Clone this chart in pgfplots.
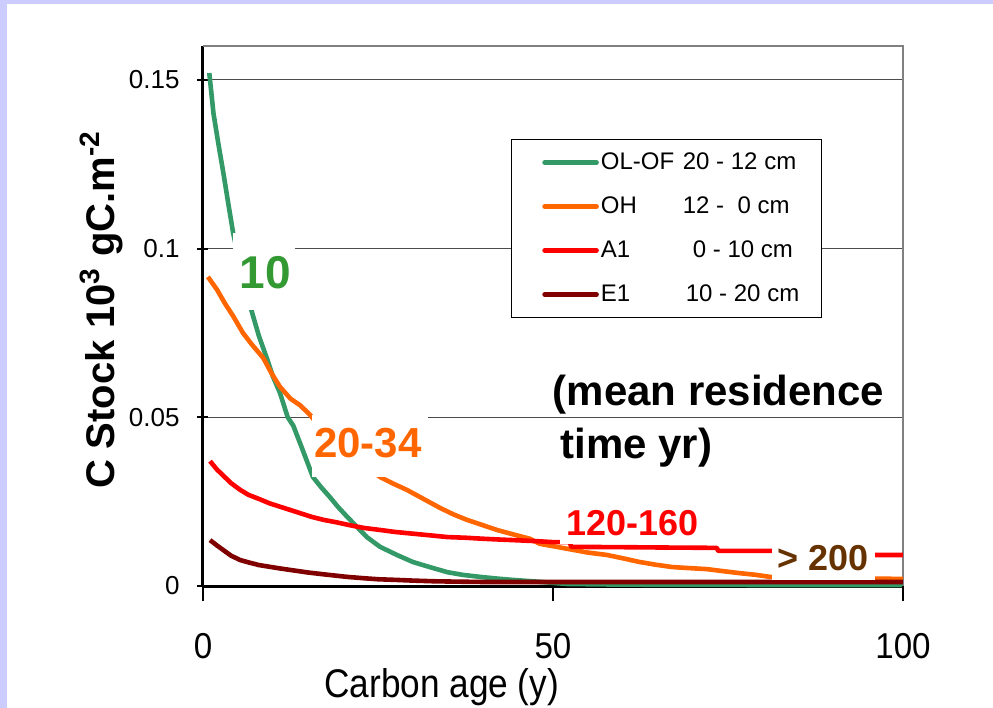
\documentclass[border=0pt]{standalone}
\usepackage{fontspec}
\setmainfont{Liberation Sans}
\usepackage{pgfplots}
\pgfplotsset{compat=1.18}

\definecolor{lavbg}{HTML}{CCCCFF}
\definecolor{olgreen}{HTML}{339966}
\definecolor{tengreen}{HTML}{339933}
\definecolor{ohorange}{HTML}{FF6600}
\definecolor{ared}{HTML}{FF0000}
\definecolor{ebrown}{HTML}{800000}
\definecolor{txtbrown}{HTML}{663300}

% legend text: name column, then depth range
\newcommand{\legtext}[3]{\makebox[111.5pt][l]{\hspace{1pt}\makebox[#1][l]{#2}#3}}

\begin{document}
\begin{tikzpicture}
\useasboundingbox (-101.5pt,-61pt) rectangle (395pt,293pt);
\fill[lavbg] (-101.5pt,-61pt) rectangle (395pt,293pt);
\fill[white] (-98pt,-61pt) rectangle (395pt,291pt);

\begin{axis}[
  at={(0,0)}, anchor=south west,
  scale only axis, width=350pt, height=270pt,
  xmin=0, xmax=100, ymin=0, ymax=0.16,
  clip=false,
  axis lines*=left,
  axis line style={line width=1.5pt, -},
  xtick=\empty,
  ytick={0,0.05,0.1,0.15},
  yticklabels={0,0.05,0.1,0.15},
  tick align=center,
  major tick length=5.5pt,
  tick style={line width=1pt, black},
  ymajorgrids=true,
  grid style={line width=0.6pt, black!70},
  yticklabel style={font=\fontsize{13}{13}\selectfont, inner sep=0pt, anchor=east, xshift=-8.75pt},
  legend style={at={(axis cs:44,0.1325)}, anchor=north west, draw=black, line width=0.6pt,
    inner xsep=0pt, inner ysep=0.5pt, row sep=0pt,
    font=\fontsize{12}{12}\selectfont,
    nodes={inner sep=0pt, minimum height=22pt}},
  legend cell align=left,
  legend image code/.code={
    \path[draw=none] (0pt,0pt) -- (15.5pt,0pt);
    \draw[line width=2.3pt, line cap=round] (16.5pt,0pt) -- (42.5pt,0pt);
  },
  every axis plot/.append style={line width=2.3pt, line join=round},
]

\draw[black!50, line width=0.75pt] (rel axis cs:0,1) -- (rel axis cs:1,1) -- (rel axis cs:1,0);

\addplot[olgreen] coordinates {
(0.9,0.152) (1.5,0.140) (2.2,0.131) (2.9,0.1225) (3.6,0.1135) (4.3,0.1047)
(5.5,0.093) (6.9,0.0818) (8,0.074) (9.1,0.0676) (10,0.062) (11,0.0572)
(12.1,0.050) (12.9,0.0475) (14.3,0.040) (15.7,0.0323) (16.9,0.0292)
(18.1,0.0264) (19.3,0.0234) (20.6,0.0205) (22,0.0175) (23.4,0.0145)
(25.3,0.0116) (27.7,0.0092) (30,0.0071) (32.4,0.0056) (34.9,0.0041)
(37.1,0.0033) (39.6,0.0027) (42,0.0022) (44.3,0.0018) (47,0.0014)
(49,0.0011) (52,0.0006) (60,0.0004) (80,0.0003) (100,0.0003)
};
\addlegendentry{\legtext{41pt}{OL-OF}{20 - 12 cm}}

\addplot[ohorange] coordinates {
(0.7,0.0916) (2,0.0878) (3.2,0.0835) (4.3,0.080) (5.7,0.075)
(7,0.0715) (8.6,0.0676) (9.8,0.063) (11,0.059) (12.5,0.0555) (13.9,0.0535)
(15.3,0.0507) (17.5,0.045) (20,0.040) (22.5,0.0365) (25.3,0.0323)
(27,0.0305) (29.1,0.0285) (31.5,0.0258) (33.9,0.0231) (35.8,0.0212)
(37.7,0.0196) (40,0.0180) (42,0.0166) (44.3,0.0153) (46.7,0.0140)
(48.1,0.0125) (50,0.0118) (52.9,0.0107) (55,0.0099) (57.7,0.0092)
(60,0.0082) (62.4,0.0071) (64.7,0.0063) (67.1,0.0056) (69.5,0.0053)
(72,0.0050) (74.3,0.0044) (76.7,0.0038) (79,0.0033) (81,0.0027)
(85,0.0025) (90,0.0023) (95,0.0022) (100,0.0021)
};
\addlegendentry{\legtext{41pt}{OH}{12 -\ \ 0 cm}}

\addplot[ared] coordinates {
(1,0.037) (2,0.0345) (3,0.0325) (4,0.0305) (5.3,0.0285) (6.5,0.027)
(8,0.0258) (9.5,0.0245) (11,0.0235) (12.5,0.0225) (14,0.0215)
(15.5,0.0205) (17.2,0.0196) (19,0.0189) (21,0.018) (23,0.0172)
(25.3,0.0166) (27.5,0.016) (30,0.0155) (32.5,0.015) (34.9,0.0145)
(37.5,0.0143) (40,0.014) (42,0.0138) (44.3,0.0136) (47.5,0.0133)
(50,0.013) (52.4,0.013) (52.6,0.0116) (60,0.0115) (66,0.0114)
(73.4,0.0113) (73.6,0.0104) (81.3,0.0104) (88,0.0098) (96,0.0092) (100,0.0092)
};
\addlegendentry{\legtext{46pt}{A1}{0 - 10 cm}}

\addplot[ebrown] coordinates {
(1,0.0136) (2,0.012) (3,0.0105) (4,0.009) (5.3,0.0077) (6.5,0.007)
(8,0.0062) (9.5,0.0057) (11,0.0052) (13,0.0046) (15,0.004) (17.5,0.0034)
(20.6,0.0027) (23,0.0023) (25,0.002) (27.7,0.0018) (30,0.0016) (33,0.0014)
(36,0.0013) (39.6,0.0012) (50,0.0012) (100,0.0012)
};
\addlegendentry{\legtext{42.5pt}{E1}{10 - 20 cm}}

% white label boxes and residence-time labels
\fill[white] (axis cs:4.29,0.0818) rectangle (axis cs:13.14,0.1047);
\node[text=tengreen, font=\bfseries\fontsize{23}{23}\selectfont, inner sep=0pt] at (axis cs:8.86,0.0928) {10};
\fill[white] (axis cs:15.57,0.0323) rectangle (axis cs:32.14,0.0507);
\node[text=ohorange, font=\bfseries\fontsize{21}{21}\selectfont, inner sep=0pt] at (axis cs:23.57,0.0424) {20-34};
\fill[white] (axis cs:51,0.0123) rectangle (axis cs:73,0.026);
\node[text=ared, font=\bfseries\fontsize{18}{18}\selectfont, inner sep=0pt] at (axis cs:61.3,0.0187) {120-160};
\fill[white] (axis cs:81.3,0.0019) rectangle (axis cs:96,0.0172);
\node[text=txtbrown, font=\bfseries\fontsize{18}{18}\selectfont, inner sep=0pt] at (axis cs:88.57,0.0083) {> 200};
\node[anchor=west, font=\bfseries\fontsize{21}{21}\selectfont, inner sep=0pt] at (axis cs:49.9,0.0566) {(mean residence};
\node[anchor=west, font=\bfseries\fontsize{21}{21}\selectfont, inner sep=0pt] at (axis cs:51,0.0409) {time yr)};

% axis titles
\node[rotate=90, anchor=base, font=\bfseries\fontsize{20}{20}\selectfont, inner sep=0pt] at (axis cs:-12.7,0.0818) {C Stock 10\textsuperscript{3} gC.m\textsuperscript{-2}};
\node[font=\fontsize{20}{20}\selectfont, xscale=0.88, inner sep=0pt] at (axis cs:34.1,-0.030) {Carbon age (y)};
\end{axis}

% overlay axis for the x ticks (longer, outside)
\begin{axis}[
  at={(0,0)}, anchor=south west,
  scale only axis, width=350pt, height=270pt,
  xmin=0, xmax=100, ymin=0, ymax=0.16,
  axis line style={draw=none},
  ytick=\empty,
  xtick={0,50,100}, xticklabels={0,50,100},
  xtick pos=bottom,
  tick align=outside,
  major tick length=7.5pt,
  tick style={line width=1pt, black},
  xticklabel style={font=\fontsize{18}{18}\selectfont, xscale=0.92, inner sep=0pt, anchor=north, yshift=-16pt},
]
\end{axis}
\end{tikzpicture}
\end{document}
